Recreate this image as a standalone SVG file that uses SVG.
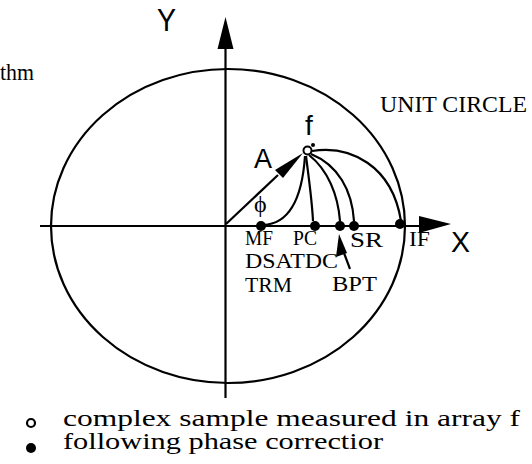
<svg xmlns="http://www.w3.org/2000/svg" width="532" height="464" viewBox="0 0 532 464">
<style>
.ln{fill:none;stroke:#000;stroke-width:2.2}
.sr{font-family:"Liberation Serif","Times New Roman",serif;fill:#000}
.ss{font-family:"Liberation Sans",Arial,sans-serif;fill:#000}
.lb{font-family:"Liberation Serif","Times New Roman",serif;fill:#000;font-size:22px}
</style>
<rect width="532" height="464" fill="#fff"/>
<text class="sr" x="0" y="80" font-size="23" textLength="34" lengthAdjust="spacingAndGlyphs">thm</text>
<g id="circle"><ellipse class="ln" cx="228" cy="226" rx="177" ry="157"/></g>
<g id="axes">
<line class="ln" x1="40" y1="226" x2="422" y2="226"/>
<polygon points="419,216 451,224 419,233" fill="#000"/>
<line class="ln" x1="225.5" y1="398" x2="225.5" y2="46"/>
<polygon points="217.5,49 225.5,17 233.5,49" fill="#000"/>
<text class="ss" x="157" y="31" font-size="32" textLength="19" lengthAdjust="spacingAndGlyphs">Y</text>
<text class="ss" x="451" y="252" font-size="30" textLength="19" lengthAdjust="spacingAndGlyphs">X</text>
</g>
<g id="connectors">
<line class="ln" x1="226" y1="224" x2="278" y2="175"/>
<polygon points="275,170 303,153 283,178" fill="#000"/>
<path class="ln" d="M305,156 C302,200 288,224 263,225"/>
<path class="ln" d="M306,156 C309,180 312,200 313,221"/>
<path class="ln" d="M309,155 C328,170 338,195 340,221"/>
<path class="ln" d="M311,154 C338,165 352,190 354,221"/>
<path class="ln" d="M312,151 C350,145 392,165 401,221"/>
<line class="ln" x1="341" y1="245" x2="350" y2="269"/>
<polygon points="339,234 336,257 347,253" fill="#000"/>
</g>
<g id="points">
<circle cx="261" cy="226" r="5"/>
<circle cx="315" cy="226" r="5"/>
<circle cx="340" cy="226" r="5"/>
<circle cx="354" cy="226" r="5"/>
<circle cx="400" cy="224" r="5"/>
<circle cx="307.5" cy="150.5" r="4" fill="#fff" stroke="#000" stroke-width="2"/>
<circle cx="313" cy="145" r="2"/>
</g>
<g id="labels">
<text class="ss" x="305" y="135" font-size="28">f</text>
<text class="ss" x="254" y="168" font-size="27">A</text>
<text class="sr" x="254" y="212" font-size="24">ϕ</text>
<text class="lb" x="245" y="245" textLength="28" lengthAdjust="spacingAndGlyphs">MF</text>
<text class="lb" x="293" y="245" textLength="24" lengthAdjust="spacingAndGlyphs">PC</text>
<text class="lb" x="350" y="247" textLength="33" lengthAdjust="spacingAndGlyphs">SR</text>
<text class="lb" x="409" y="246" textLength="21" lengthAdjust="spacingAndGlyphs">IF</text>
<text class="lb" x="245" y="268" textLength="93" lengthAdjust="spacingAndGlyphs">DSATDC</text>
<text class="lb" x="245" y="292" textLength="47" lengthAdjust="spacingAndGlyphs">TRM</text>
<text class="lb" x="332" y="291" textLength="45" lengthAdjust="spacingAndGlyphs">BPT</text>
<text class="sr" x="380" y="112" font-size="24" textLength="147" lengthAdjust="spacingAndGlyphs">UNIT CIRCLE</text>
</g>
<g id="legend">
<circle cx="31" cy="423" r="4" fill="#fff" stroke="#000" stroke-width="2.2"/>
<circle cx="31" cy="448" r="5"/>
<text class="sr" x="63" y="426" font-size="23" textLength="457" lengthAdjust="spacingAndGlyphs">complex sample measured in array  f</text>
<text class="sr" x="63" y="449" font-size="23" textLength="320" lengthAdjust="spacingAndGlyphs">following phase correctior</text>
</g>
</svg>
